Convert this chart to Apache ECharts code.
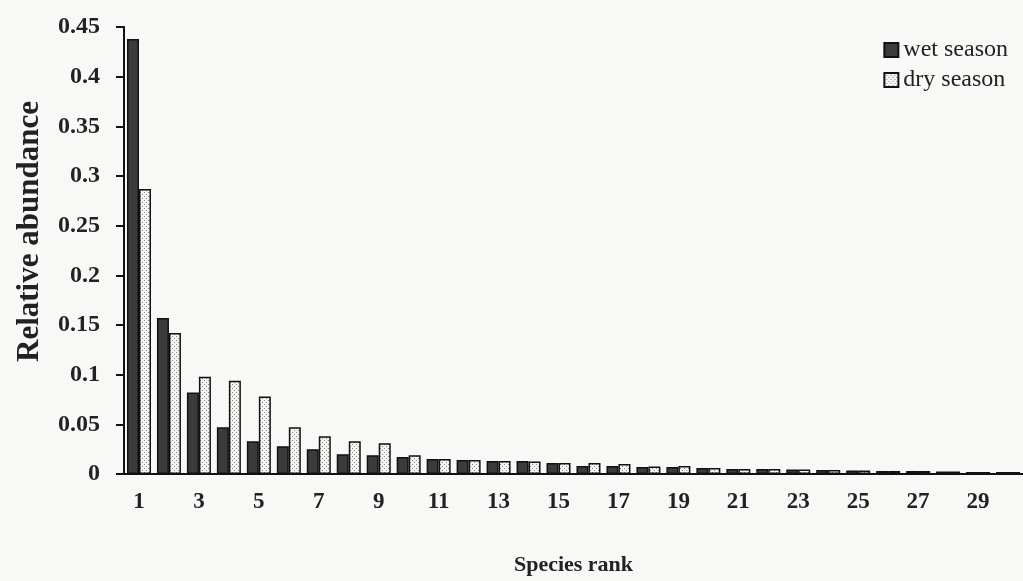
<!DOCTYPE html>
<html>
<head>
<meta charset="utf-8">
<script src="https://cdn.jsdelivr.net/npm/echarts@6/dist/echarts.min.js"></script>
<style>
  html, body { margin: 0; padding: 0; background: #f8f8f6; }
  #chart { width: 1023px; height: 581px; }
</style>
</head>
<body>
<div id="chart"></div>
<script>
// species rank 1..30
const ranks = Array.from({ length: 30 }, (_, i) => String(i + 1))
const wetSeason = [0.438, 0.157, 0.082, 0.047, 0.033, 0.028, 0.025, 0.020, 0.019, 0.017,
  0.015, 0.014, 0.013, 0.013, 0.011, 0.008, 0.008, 0.007, 0.007, 0.006,
  0.005, 0.005, 0.0045, 0.004, 0.0035, 0.003, 0.003, 0.0025, 0.002, 0.002]
const drySeason = [0.287, 0.142, 0.098, 0.094, 0.078, 0.047, 0.038, 0.033, 0.031, 0.019,
  0.015, 0.014, 0.013, 0.0125, 0.011, 0.011, 0.010, 0.0075, 0.008, 0.006,
  0.005, 0.005, 0.0045, 0.004, 0.0035, 0.003, 0.003, 0.0025, 0.002, 0.002]

// dotted fill for the dry season bars
const dots = document.createElement('canvas')
dots.width = 4
dots.height = 4
const ctx = dots.getContext('2d')
ctx.fillStyle = '#f4f4f2'
ctx.fillRect(0, 0, 4, 4)
ctx.fillStyle = '#8a8a8a'
ctx.fillRect(0, 0, 1, 1)
ctx.fillRect(2, 2, 1, 1)

const font = 'Liberation Serif'

const options = {
  backgroundColor: '#f8f8f6',
  animation: false,
  grid: {
    left: 124,
    right: -1,
    top: 27,
    bottom: 107,
  },
  legend: {
    orient: 'vertical',
    right: 10,
    top: 33,
    itemWidth: 14,
    itemHeight: 14,
    itemGap: 6,
    icon: 'rect',
    textStyle: {
      fontFamily: font,
      fontSize: 24,
      color: '#222',
      padding: [0, 0, 0, 0],
    },
  },
  xAxis: {
    type: 'category',
    data: ranks,
    name: 'Species rank',
    nameLocation: 'middle',
    nameGap: 80,
    nameTextStyle: {
      fontFamily: font,
      fontSize: 22,
      fontWeight: 'bold',
      color: '#222',
    },
    axisLine: { lineStyle: { color: '#111', width: 2 } },
    axisTick: {
      interval: 0,
      length: 9,
      lineStyle: { color: '#111', width: 2 },
    },
    axisLabel: {
      interval: 1,
      margin: 17,
      fontFamily: font,
      fontSize: 23,
      fontWeight: 'bold',
      color: '#222',
    },
  },
  yAxis: {
    type: 'value',
    min: 0,
    max: 0.45,
    interval: 0.05,
    name: 'Relative abundance',
    nameLocation: 'middle',
    nameGap: 79,
    nameTextStyle: {
      fontFamily: font,
      fontSize: 31,
      fontWeight: 'bold',
      color: '#222',
      padding: [0, 0, 0, 38],
    },
    splitLine: { show: false },
    axisLine: { show: true, lineStyle: { color: '#111', width: 2 } },
    axisTick: {
      show: true,
      length: 8,
      lineStyle: { color: '#111', width: 2 },
    },
    axisLabel: {
      margin: 24,
      fontFamily: font,
      fontSize: 24,
      fontWeight: 'bold',
      color: '#222',
    },
  },
  series: [
    {
      name: 'wet season',
      type: 'bar',
      data: wetSeason,
      barWidth: 12,
      barGap: '0%',
      itemStyle: {
        color: '#3b3b3b',
        borderColor: '#111',
        borderWidth: 1.5,
      },
    },
    {
      name: 'dry season',
      type: 'bar',
      data: drySeason,
      barWidth: 12,
      barGap: '0%',
      itemStyle: {
        color: { image: dots, repeat: 'repeat' },
        borderColor: '#111',
        borderWidth: 1.5,
      },
    },
  ],
}

const chart = echarts.init(document.getElementById('chart'))
chart.setOption(options)
window.addEventListener('resize', function () {
  chart && chart.resize()
})
</script>
</body>
</html>
